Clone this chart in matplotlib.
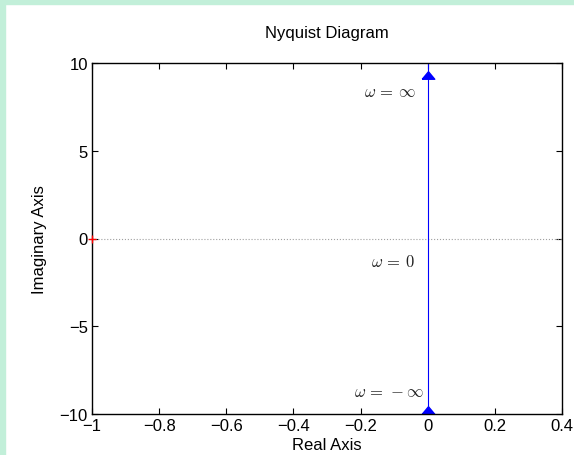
import numpy as np
import matplotlib
matplotlib.use("Agg")
import matplotlib.pyplot as plt
from matplotlib.patches import Rectangle

# Nyquist curve of a pure integrator-like system: sits on the imaginary axis
re_curve = [0.0, 0.0]
im_curve = [-10.0, 10.0]

# direction arrows
arrow_re = [0.0, 0.0]
arrow_im = [9.3, -9.77]

# critical point
crit_re = [-1.0]
crit_im = [0.0]

# frequency annotations
ann_text = [r"$\omega\,=\,\infty$", r"$\omega\,=\,0$", r"$\omega\,=\,-\infty$"]
ann_re = [-0.035, -0.04, -0.01]
ann_im = [8.4, -1.3, -8.7]

xticks = [-1, -0.8, -0.6, -0.4, -0.2, 0, 0.2, 0.4]
yticks = [-10, -5, 0, 5, 10]

plt.rcParams['font.family'] = ['Liberation Sans', 'DejaVu Sans']
plt.rcParams['mathtext.fontset'] = 'cm'

fig = plt.figure(figsize=(5.74, 4.56), dpi=100)
fig.patch.set_facecolor('white')
# mint strips along top and left edge
mint = '#c2efd9'
fig.add_artist(Rectangle((0, 0), 5 / 574, 1, transform=fig.transFigure, color=mint, zorder=0))
fig.add_artist(Rectangle((0, 1 - 5 / 456), 1, 5 / 456, transform=fig.transFigure, color=mint, zorder=0))

ax = fig.add_axes([92 / 574, 41 / 456, 470 / 574, 351 / 456])

# wide, flat arrow head like the MATLAB one
tri = [(-1, -0.6), (1, -0.6), (0, 0.6), (-1, -0.6)]

ax.axhline(0, color='#a0a0a0', linestyle=':', linewidth=0.8)
ax.plot(re_curve, im_curve, color='blue', linewidth=0.8)
ax.plot(arrow_re, arrow_im, linestyle='none', marker=tri, color='blue', markersize=9, clip_on=False)
ax.plot(crit_re, crit_im, linestyle='none', marker='+', color='red', markersize=6,
        clip_on=False, zorder=4)

for t, x, y in zip(ann_text, ann_re, ann_im):
    ax.text(x, y, t, ha='right', va='center', fontsize=12, color='#222222')

ax.set_xlim(-1, 0.4)
ax.set_ylim(-10, 10)
ax.set_xticks(xticks)
ax.set_yticks(yticks)
ax.set_xticklabels(['\u22121', '\u22120.8', '\u22120.6', '\u22120.4', '\u22120.2', '0', '0.2', '0.4'])
ax.set_yticklabels(['\u221210', '\u22125', '0', '5', '10'])
ax.tick_params(direction='in', top=True, right=True, length=4, labelsize=12)
ax.tick_params(axis='x', pad=3)
ax.tick_params(axis='y', pad=3)
for s in ax.spines.values():
    s.set_linewidth(1.0)

ax.set_title('Nyquist Diagram', fontsize=12, pad=19)
ax.set_xlabel('Real Axis', fontsize=12, labelpad=3)
ax.set_ylabel('Imaginary Axis', fontsize=12, labelpad=9)

fig.savefig('out.png', dpi=100)
